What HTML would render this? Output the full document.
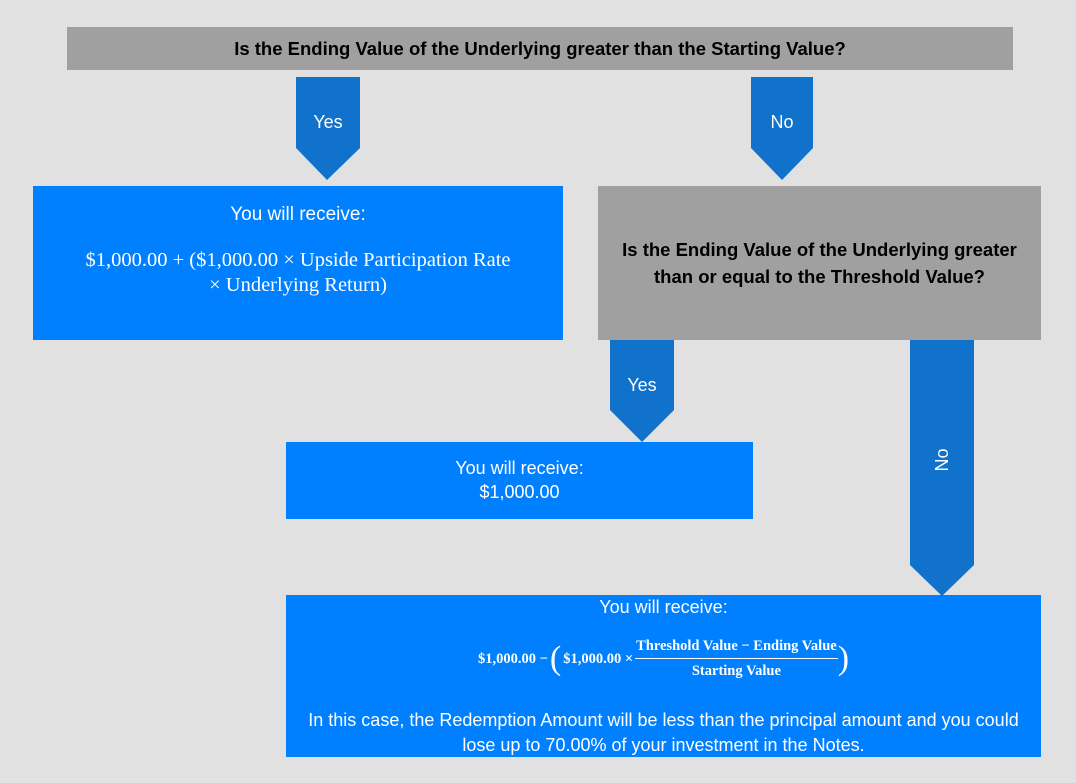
<!DOCTYPE html>
<html><head><style>
body{margin:0;width:1076px;height:783px;background:#e1e1e1;position:relative;overflow:hidden;font-family:"Liberation Sans",sans-serif;}
.b{position:absolute;color:#fff;text-align:center;}
.blue{background:#0080ff;}
.gray{background:#a0a0a0;color:#000;font-weight:bold;}
.ser{font-family:"Liberation Serif",serif;}
svg{position:absolute;left:0;top:0;}
</style></head><body>
<div class="b gray" style="left:67px;top:27px;width:946px;height:43px;line-height:43px;font-size:18.5px;">Is the Ending Value of the Underlying greater than the Starting Value?</div>
<div class="b blue" style="left:33px;top:186px;width:530px;height:154px;">
<div style="margin-top:18px;font-size:19px;">You will receive:</div>
<div class="ser" style="margin-top:22px;font-size:20.5px;line-height:25px;">$1,000.00 + ($1,000.00 × Upside Participation Rate<br>× Underlying Return)</div></div>
<div class="b gray" style="left:598px;top:186px;width:443px;height:154px;display:flex;align-items:center;justify-content:center;font-size:18.5px;line-height:27px;">Is the Ending Value of the Underlying greater<br>than or equal to the Threshold Value?</div>
<div class="b blue" style="left:286px;top:442px;width:467px;height:77px;font-size:18px;line-height:24px;"><div style="margin-top:14px">You will receive:<br>$1,000.00</div></div>
<div class="b blue" style="left:286px;top:595px;width:755px;height:162px;">
<div style="margin-top:2px;font-size:18px;">You will receive:</div>
<div class="ser" style="margin-top:20px;font-size:14.5px;font-weight:bold;display:flex;justify-content:center;align-items:center;">
<span>$1,000.00 − </span><span style="font-size:34px;font-weight:100;margin:0 2px;">(</span><span>$1,000.00 ×</span>
<span style="display:inline-block;margin-left:2px;"><span style="display:block;border-bottom:1px solid #fff;padding:0 1px 3px;">Threshold Value − Ending Value</span><span style="display:block;padding-top:4px;">Starting Value</span></span><span style="font-size:34px;font-weight:100;">)</span></div>
<div style="margin-top:28px;font-size:18px;line-height:25px;">In this case, the Redemption Amount will be less than the principal amount and you could<br>lose up to 70.00% of your investment in the Notes.</div></div>
<svg width="1076" height="783">
<g fill="#1172cc">
<polygon points="296,77 360,77 360,148 327,180 296,148"/>
<polygon points="751,77 813,77 813,148 782,180 751,148"/>
<polygon points="610,340 674,340 674,410 642,442 610,410"/>
<polygon points="910,340 974,340 974,565 942,596 910,565"/>
</g>
<g fill="#fff" font-family="Liberation Sans,sans-serif" font-size="18" text-anchor="middle">
<text x="328" y="128">Yes</text>
<text x="782" y="128">No</text>
<text x="642" y="391">Yes</text>
<text x="0" y="0" transform="translate(948,460) rotate(-90)">No</text>
</g>
</svg>
</body></html>
